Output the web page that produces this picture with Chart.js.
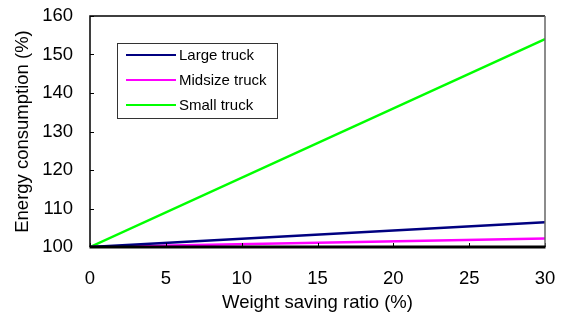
<!DOCTYPE html>
<html>
<head>
<meta charset="utf-8">
<script src="https://cdn.jsdelivr.net/npm/chart.js@4"></script>
<style>
  html, body { margin: 0; padding: 0; background: #fff; }
  #wrap { width: 565px; height: 320px; }
</style>
</head>
<body>
<div id="wrap"><canvas id="grafico"></canvas></div>
<script>
// dados
const ratio = [0, 30];
const largeTruck = [100, 106.4];
const midsizeTruck = [100, 102.2];
const smallTruck = [100, 154];
const xTicks = [0, 5, 10, 15, 20, 25, 30];
const yTicks = [100, 110, 120, 130, 140, 150, 160];

const pontos = vals => ratio.map((x, i) => ({ x: x, y: vals[i] }));

// moldura, ticks para dentro e legenda em caixa
const moldura = {
  id: 'moldura',
  afterDraw(chart) {
    const ctx = chart.ctx;
    const a = chart.chartArea;
    const sx = chart.scales.x, sy = chart.scales.y;
    ctx.save();
    ctx.lineCap = 'butt';
    // ticks
    ctx.strokeStyle = '#000';
    ctx.lineWidth = 1;
    yTicks.forEach(v => {
      const y = Math.round(sy.getPixelForValue(v)) + 0.5;
      ctx.beginPath(); ctx.moveTo(a.left, y); ctx.lineTo(a.left + 4, y); ctx.stroke();
    });
    xTicks.forEach(v => {
      const x = Math.round(sx.getPixelForValue(v)) + 0.5;
      ctx.beginPath(); ctx.moveTo(x, a.bottom); ctx.lineTo(x, a.bottom - 4); ctx.stroke();
    });
    // bordas
    ctx.lineWidth = 1.5;
    ctx.strokeStyle = '#000';
    ctx.beginPath(); ctx.moveTo(a.left, a.bottom); ctx.lineTo(a.left, a.top); ctx.lineTo(a.right, a.top); ctx.stroke();
    ctx.strokeStyle = '#666';
    ctx.beginPath(); ctx.moveTo(a.right, a.top); ctx.lineTo(a.right, a.bottom); ctx.stroke();
    ctx.strokeStyle = '#000';
    ctx.lineWidth = 3;
    ctx.beginPath(); ctx.moveTo(a.left - 0.5, a.bottom); ctx.lineTo(a.right + 0.5, a.bottom); ctx.stroke();
    // legenda
    ctx.fillStyle = '#fff';
    ctx.fillRect(117, 43, 160, 75);
    ctx.strokeStyle = '#333';
    ctx.lineWidth = 1;
    ctx.strokeRect(117.5, 43.5, 160, 75);
    ctx.font = '15px "Liberation Sans", Arial, sans-serif';
    ctx.textBaseline = 'middle';
    ctx.fillStyle = '#000';
    chart.data.datasets.forEach((ds, i) => {
      const y = 55 + i * 25;
      ctx.strokeStyle = ds.borderColor;
      ctx.lineWidth = 2;
      ctx.beginPath(); ctx.moveTo(126, y); ctx.lineTo(176, y); ctx.stroke();
      ctx.fillText(ds.label, 179, y + 1);
    });
    ctx.restore();
  }
};

const fonte = { family: '"Liberation Sans", Arial, sans-serif', size: 18.5 };

new Chart(document.getElementById('grafico').getContext('2d'), {
  type: 'line',
  data: {
    datasets: [
      { label: 'Large truck', data: pontos(largeTruck), borderColor: '#000080', borderWidth: 2.5, pointRadius: 0, fill: false },
      { label: 'Midsize truck', data: pontos(midsizeTruck), borderColor: '#ff00ff', borderWidth: 2.5, pointRadius: 0, fill: false },
      { label: 'Small truck', data: pontos(smallTruck), borderColor: '#00ff00', borderWidth: 2.5, pointRadius: 0, fill: false }
    ]
  },
  options: {
    responsive: true,
    maintainAspectRatio: false,
    animation: false,
    layout: { padding: { left: 0, right: 20, top: 16, bottom: 0 } },
    plugins: { legend: { display: false }, tooltip: { enabled: false } },
    scales: {
      x: {
        type: 'linear', min: 0, max: 30,
        afterBuildTicks: s => { s.ticks = xTicks.map(v => ({ value: v })); },
        afterFit: s => { s.height = 73; s.paddingLeft = 0; s.paddingRight = 0; },
        grid: { display: false, drawTicks: false },
        border: { display: false },
        ticks: { color: '#000', font: fonte, padding: 21, maxRotation: 0 },
        title: { display: true, text: 'Weight saving ratio (%)', color: '#000', font: fonte, padding: { top: 4, bottom: 6 } }
      },
      y: {
        min: 100, max: 160,
        afterBuildTicks: s => { s.ticks = yTicks.map(v => ({ value: v })); },
        afterFit: s => { s.width = 90; s.paddingTop = 0; s.paddingBottom = 0; },
        grid: { display: false, drawTicks: false },
        border: { display: false },
        ticks: { color: '#000', font: fonte, padding: 17 },
        title: { display: true, text: 'Energy consumption (%)', color: '#000', font: fonte, padding: { top: 12, bottom: 4 } }
      }
    }
  },
  plugins: [moldura]
});
</script>
</body>
</html>
